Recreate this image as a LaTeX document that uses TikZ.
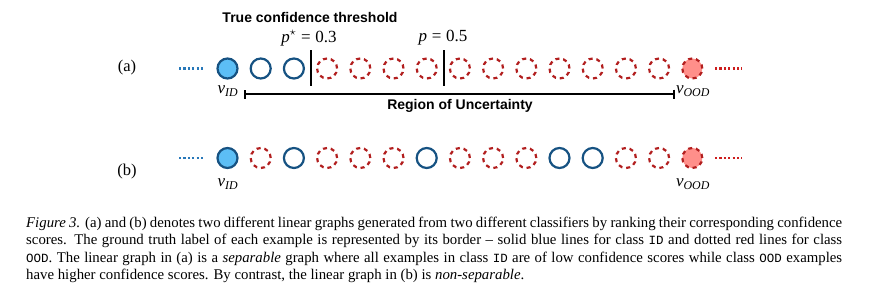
\documentclass[tikz,border=0pt]{standalone}
\usetikzlibrary{arrows.meta}
\usepackage{fontspec}
\setmainfont{Liberation Serif}
\setmonofont{Liberation Mono}
\newfontfamily\hvbold{Liberation Sans}[BoldFont={* Bold}]
\newfontfamily\capfont{Liberation Serif}[Ligatures=TeX]
\newfontfamily\capmono{Liberation Mono}
\definecolor{idblue}{RGB}{22,82,130}
\definecolor{idfill}{RGB}{92,190,245}
\definecolor{oodred}{RGB}{178,30,30}
\definecolor{oodfill}{RGB}{255,143,138}
\definecolor{dotblue}{RGB}{40,120,185}
\definecolor{dotred}{RGB}{205,30,30}
\tikzset{
  idnode/.style={circle, inner sep=0pt, minimum size=20pt, draw=idblue, line width=2.2pt},
  oodnode/.style={circle, inner sep=0pt, minimum size=20pt, draw=oodred, line width=2.2pt, dash pattern=on 4pt off 3.85pt},
  idsrc/.style={idnode, fill=idfill},
  oodsrc/.style={oodnode, fill=oodfill},
  dotsline/.style={line width=2.2pt, dash pattern=on 2.2pt off 2.2pt},
  thr/.style={line width=1.8pt},
  lbl/.style={font=\fontsize{17}{20}\selectfont, inner sep=0pt},
  hdr/.style={font=\hvbold\bfseries\fontsize{14}{16}\selectfont, inner sep=0pt},
  capline/.style={anchor=base west, inner sep=0pt, font=\capfont\fontsize{14.8}{17}\selectfont},
}
\newcommand{\ctt}[1]{{\capmono\fontsize{12.5}{17}\selectfont #1}}
\newcommand{\eqsp}{\hspace{0.28em}}
\begin{document}
\begin{tikzpicture}[x=1pt,y=-1pt]
\useasboundingbox (0,0) rectangle (882,300);
% row labels
\node[font=\fontsize{16.5}{19}\selectfont, inner sep=0pt] (la) at (127,68) {(a)};
\node[font=\fontsize{16.5}{19}\selectfont, inner sep=0pt] (lb) at (127,172) {(b)};
% row (a)
\foreach \i/\s in {0/idsrc,1/idnode,2/idnode,3/oodnode,4/oodnode,5/oodnode,6/oodnode,7/oodnode,8/oodnode,9/oodnode,10/oodnode,11/oodnode,12/oodnode,13/oodnode,14/oodsrc}
  \node[\s] (a\i) at ({227.5+33.2*\i},68.5) {};
% row (b)
\foreach \i/\s in {0/idsrc,1/oodnode,2/idnode,3/oodnode,4/oodnode,5/oodnode,6/idnode,7/oodnode,8/oodnode,9/oodnode,10/idnode,11/idnode,12/oodnode,13/oodnode,14/oodsrc}
  \node[\s] (b\i) at ({227.5+33.2*\i},158) {};
% dotted ends
\coordinate (aL1) at (179,68.5); \coordinate (aL2) at (205,68.5);
\coordinate (aR1) at (715,68.5); \coordinate (aR2) at (742,68.5);
\coordinate (bL1) at (179,158); \coordinate (bL2) at (205,158);
\coordinate (bR1) at (715,158); \coordinate (bR2) at (742,158);
\draw[dotsline, dotblue] (aL1) -- (aL2);
\draw[dotsline, dotred] (aR1) -- (aR2);
\draw[dotsline, dotblue] (bL1) -- (bL2);
\draw[dotsline, dotred] (bR1) -- (bR2);
% thresholds
\coordinate (t1top) at (311,50); \coordinate (t1bot) at (311,86);
\coordinate (t2top) at (444.3,50); \coordinate (t2bot) at (444.3,86);
\draw[thr] (t1top) -- (t1bot);
\draw[thr] (t2top) -- (t2bot);
\node[hdr] (tct) at (310,17) {True confidence threshold};
\node[lbl] (ps) at (309,38) {\textit{p}\textsuperscript{$\star$}\eqsp=\eqsp0.3};
\node[lbl] (pp) at (443,38) {\textit{p}\eqsp=\eqsp0.5};
% v labels
\node[lbl] (vida) at (228,91) {\textit{v}\textsubscript{\textit{ID}}};
\node[lbl] (vooda) at (693,91) {\textit{v}\textsubscript{\textit{OOD}}};
\node[lbl] (vidb) at (228,184) {\textit{v}\textsubscript{\textit{ID}}};
\node[lbl] (voodb) at (693,184) {\textit{v}\textsubscript{\textit{OOD}}};
% region bracket
\coordinate (r1) at (244,94); \coordinate (r2) at (675,94);
\draw[line width=2pt, {Bar[width=9pt,line width=1.8pt]}-{Bar[width=9pt,line width=1.8pt]}] (r1) -- (r2);
\node[hdr] (reg) at (460,106) {Region of Uncertainty};
% caption
\node[capline] (c1) at (26,227.7) {\makebox[816pt][s]{\textit{Figure 3.} (a) and (b) denotes two different linear graphs generated from two different classifiers by ranking their corresponding confidence}};
\node[capline] (c2) at (26,244.8) {\makebox[816pt][s]{scores. The ground truth label of each example is represented by its border \textendash{} solid blue lines for class \ctt{ID} and dotted red lines for class}};
\node[capline] (c3) at (26,262) {\makebox[816pt][s]{\ctt{OOD}. The linear graph in (a) is a \textit{separable} graph where all examples in class \ctt{ID} are of low confidence scores while class \ctt{OOD} examples}};
\node[capline] (c4) at (26,279.2) {have higher confidence scores. By contrast, the linear graph in (b) is \textit{non-separable}.};
\end{tikzpicture}
\end{document}
